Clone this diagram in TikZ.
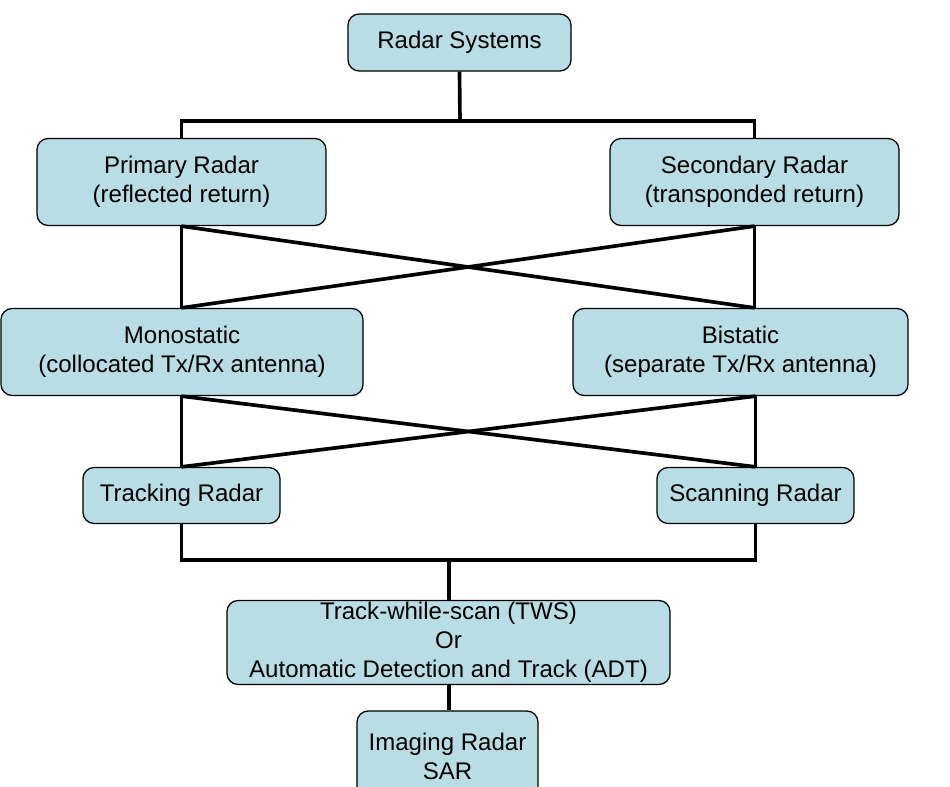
\documentclass[tikz,border=0pt]{standalone}
\usepackage{fontspec}
\setmainfont{Liberation Sans}
\usetikzlibrary{positioning}
\definecolor{boxblue}{HTML}{B9DDE5}

\begin{document}
\begin{tikzpicture}[x=0.025cm,y=-0.025cm,
  block/.style={draw,fill=boxblue,rounded corners=8pt,line width=0.9pt,align=center,
    inner sep=0pt,font=\fontsize{17.1}{20.7}\selectfont},
  link/.style={line width=2.6pt}]
  \useasboundingbox (0,0) rectangle (950,787);
  \fill[white] (0,0) rectangle (950,787);
  \clip (0,0) rectangle (950,787);

  \node[block,minimum width=5.575cm,minimum height=1.425cm] (sys) at (459.5,42.5) {Radar Systems};
  \node[block,minimum width=7.225cm,minimum height=2.175cm] (prim) at (181.5,182) {Primary Radar\\(reflected return)};
  \node[block,minimum width=7.225cm,minimum height=2.175cm] (sec) at (754.5,182) {Secondary Radar\\(transponded return)};
  \node[block,minimum width=9.05cm,minimum height=2.175cm] (mono) at (182,352) {Monostatic\\(collocated Tx/Rx antenna)};
  \node[block,minimum width=8.375cm,minimum height=2.175cm] (bist) at (740.5,352) {Bistatic\\(separate Tx/Rx antenna)};
  \node[block,minimum width=4.925cm,minimum height=1.4cm] (track) at (181.5,495.5) {Tracking Radar};
  \node[block,minimum width=4.925cm,minimum height=1.4cm] (scan) at (755.5,495.5) {Scanning Radar};
  \node[block,minimum width=11.075cm,minimum height=2.1cm] (tws) at (448.5,642.5) {Track-while-scan (TWS)\\Or\\Automatic Detection and Track (ADT)};
  \node[block,minimum width=4.525cm,minimum height=2.25cm] (imag) at (447.5,756) {Imaging Radar\\SAR};

  \coordinate (topbus) at (460,121);
  \coordinate (lowbus) at (449,560);

  \draw[link] (sys.south) -- (topbus);
  \draw[link] (prim.north) |- (topbus) -| (sec.north);

  \draw[link] (prim.south) -- (mono.north -| prim.south);
  \draw[link] (prim.south) -- (bist.north -| sec.south);
  \draw[link] (sec.south) -- (mono.north -| prim.south);
  \draw[link] (sec.south) -- (bist.north -| sec.south);

  \draw[link] (mono.south -| track.north) -- (track.north);
  \draw[link] (mono.south -| track.north) -- (scan.north);
  \draw[link] (bist.south -| scan.north) -- (track.north);
  \draw[link] (bist.south -| scan.north) -- (scan.north);

  \draw[link] (track.south) |- (lowbus) -| (scan.south);
  \draw[link] (lowbus) -- (tws.north -| lowbus);
  \draw[link] (tws.south -| lowbus) -- (imag.north -| lowbus);
\end{tikzpicture}
\end{document}
